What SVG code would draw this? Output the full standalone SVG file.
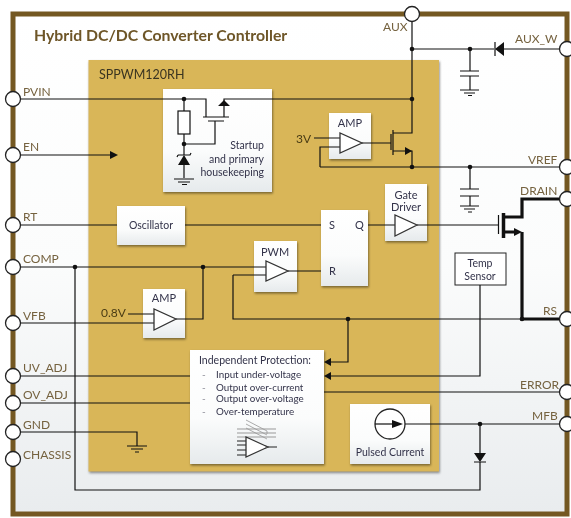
<svg xmlns="http://www.w3.org/2000/svg" width="571" height="518" viewBox="0 0 571 518">
<defs>
<linearGradient id="bg" x1="0" y1="0" x2="0" y2="1"><stop offset="0" stop-color="#ffffff"/><stop offset="0.5" stop-color="#fbfcfc"/><stop offset="1" stop-color="#e9ecee"/></linearGradient>
<linearGradient id="box" x1="0" y1="0" x2="0" y2="1"><stop offset="0" stop-color="#ffffff"/><stop offset="0.6" stop-color="#fbfcfc"/><stop offset="1" stop-color="#e6eaec"/></linearGradient>
<filter id="sh" x="-15%" y="-15%" width="130%" height="130%" color-interpolation-filters="sRGB"><feDropShadow dx="0.8" dy="1.5" stdDeviation="1" flood-color="#000" flood-opacity="0.45"/></filter>
<filter id="soft" filterUnits="userSpaceOnUse" x="0" y="0" width="571" height="518" color-interpolation-filters="sRGB"><feGaussianBlur stdDeviation="0.35"/></filter>
<style>
text{font-family:Lato,"Open Sans","Liberation Sans",sans-serif;font-size:11px;fill:#33334a}
.pin{fill:#75623f;font-size:12px}
.b{fill:url(#box);filter:url(#sh)}
.w{fill:none;stroke:#111;stroke-width:1.2}
.t{fill:none;stroke:#111;stroke-width:3.2}
.tri{fill:#fff;stroke:#333;stroke-width:1.3}
.g{fill:none;stroke:#111;stroke-width:1.2}
.d{fill:#111}
.c{fill:#fff;stroke:#222;stroke-width:1.3}
.m{text-anchor:middle}
.e{text-anchor:end;font-size:10.500px}
.s{font-size:10.500px}
.p{font-size:9.800px}
.dash{font-size:10px;fill:#8a8a95}
.v{font-size:12px;fill:#4a3c14}
</style>
</defs>
<g filter="url(#soft)">
<rect id="frame" x="13" y="14" width="554" height="500" fill="url(#bg)" stroke="#745822" stroke-width="5"/>
<text x="34" y="41" style="font-size:15.800px;font-weight:700;fill:#6e5628">Hybrid DC/DC Converter Controller</text>
<rect id="chip" x="88.500" y="60" width="350.500" height="411.500" fill="#d9b658" filter="url(#sh)"/>
<text x="99" y="79" style="font-size:12.500px;fill:#3a3420">SPPWM120RH</text>

<g id="startup"><rect class="b" x="163" y="89" width="109" height="103"/>
<text class="e" x="264" y="149">Startup</text><text class="e" x="264" y="163">and primary</text><text class="e" x="264" y="176">housekeeping</text></g>
<g id="oscillator"><rect class="b" x="117" y="206" width="68" height="39"/><text class="m s" x="151" y="229">Oscillator</text></g>
<g id="amp-top"><rect class="b" x="329" y="113" width="42" height="46"/><text class="m" x="350" y="127">AMP</text></g>
<g id="gate-driver"><rect class="b" x="385" y="184" width="42" height="57"/><text class="m" x="406" y="199">Gate</text><text class="m" x="406" y="211">Driver</text></g>
<g id="sr-latch"><rect class="b" x="321" y="210" width="47" height="76"/><text x="329" y="229">S</text><text x="355" y="229">Q</text><text x="329" y="275">R</text></g>
<g id="pwm"><rect class="b" x="254" y="241" width="43" height="51"/><text class="m" x="275" y="256">PWM</text></g>
<g id="amp-low"><rect class="b" x="143" y="289" width="42" height="49"/><text class="m" x="164" y="302">AMP</text></g>
<g id="protection"><rect class="b" x="190" y="350" width="134" height="114"/>
<text class="s" x="199" y="364">Independent Protection:</text>
<text class="dash" x="202" y="378">-</text><text class="dash" x="202" y="391">-</text><text class="dash" x="202" y="402">-</text><text class="dash" x="202" y="415">-</text>
<text class="p" x="216" y="378">Input under-voltage</text><text class="p" x="216" y="391">Output over-current</text><text class="p" x="216" y="402">Output over-voltage</text><text class="p" x="216" y="415">Over-temperature</text>
<path d="M246 420L267 431V434M246 424L267 435M246 428L267 439" fill="none" stroke="#aaa" stroke-width="1"/>
<path d="M237 429H276M237 433H276M237 437H276" stroke="#999" stroke-width="1" fill="none"/>
<path d="M237 441H246M237 445H246M237 450H246M237 455H246M268 447H277" stroke="#222" stroke-width="1" fill="none"/>
<path class="tri" d="M246 437V457L268 447Z"/></g>
<g id="pulsed-current"><rect class="b" x="350" y="404" width="80" height="60"/><text class="m s" x="390" y="456">Pulsed Current</text></g>
<g id="temp-sensor"><rect x="455" y="253" width="51" height="32" fill="#fff" stroke="#222" stroke-width="1"/><text class="m s" x="480" y="267">Temp</text><text class="m s" x="480" y="280">Sensor</text></g>

<g id="connectors">
<path class="w" d="M20 99H206V117M224 117V99H412M412 21V133H393M393 151H412V167M320 167H560M20 155H112M20 225H117M185 225H321M368 225H395M417 225H498M20 267H266M20 323H154M128 314H154M176 319H203V267M233 275H266M233 275V319H522M288 271H321M20 376H190M20 403H190M348 319V362H330M480 285V376H330M324 392H560M405 424H560M480 424V453M480 462V490H75V267M20 432H137V446"/>
<path class="w" d="M412 49H494M504 49H560M470 49V71M470 76V90M470 167V189M470 196V206"/>
<path class="w" d="M314 138H340M340 147H320V167M362 143H391"/>
<path class="t" d="M503 217H522V199H560M503 232H517M522 232V319H560"/>
<path class="g" d="M184 99V111M184 134V155M184 144H215V121M184 165V178M203 117H229M208 121H224"/>
<path class="g" d="M174 179H194M178 182H190M182 184.500H187M460 90H479M464 93H475M468 95.500H472M460 206H479M464 209H475M468 212H472M460 71H479M460 76H479M460 189H479M460 196H479M127 446H147M131 449H143M135 452H139"/>
<rect x="178" y="111" width="12" height="23" fill="#fff" stroke="#111" stroke-width="1.200"/>
<path class="d" d="M178 165H190L184 155ZM504 42V56L495 49ZM474 453H486L480 462ZM224 100L218 106H230ZM118 155L110 151V159ZM324 362L331 358V366ZM324 376L331 372V380ZM412 151L405 147V155ZM522 232L514 228V236Z"/>
<path class="g" d="M178 155H190L191 153M178 155L177 157M495 42V56M474 462H486"/>
<path class="w" d="M391 134V150M393 130V155M498.500 215V234"/>
<path d="M503.500 213V238" fill="none" stroke="#111" stroke-width="3.500"/>
<path class="tri" d="M340 133V153L362 143Z"/><path class="tri" d="M395 215V236L417 225Z"/><path class="tri" d="M266 261V281L288 271Z"/><path class="tri" d="M154 309V330L176 319Z"/>
<circle cx="390" cy="424" r="15" fill="#fff" stroke="#222" stroke-width="1.300"/>
<path class="w" d="M375 424H392"/><path class="d" d="M403 424L392 420V428Z"/>
<g class="d"><circle cx="184" cy="99" r="2.300"/><circle cx="184" cy="144" r="2.300"/><circle cx="412" cy="49" r="2.300"/><circle cx="470" cy="49" r="2.300"/><circle cx="412" cy="99" r="2.300"/><circle cx="412" cy="167" r="2.300"/><circle cx="470" cy="167" r="2.300"/><circle cx="75" cy="267" r="2.300"/><circle cx="203" cy="267" r="2.300"/><circle cx="348" cy="319" r="2.300"/><circle cx="522" cy="319" r="2.300"/><circle cx="480" cy="424" r="2.300"/></g>
</g>

<g id="pin-PVIN"><circle class="c" cx="13" cy="99" r="7.500"/><text class="pin" x="23" y="96">PVIN</text></g>
<g id="pin-EN"><circle class="c" cx="13" cy="155" r="7.500"/><text class="pin" x="23" y="151">EN</text></g>
<g id="pin-RT"><circle class="c" cx="13" cy="225" r="7.500"/><text class="pin" x="23" y="221">RT</text></g>
<g id="pin-COMP"><circle class="c" cx="13" cy="267" r="7.500"/><text class="pin" x="23" y="263">COMP</text></g>
<g id="pin-VFB"><circle class="c" cx="13" cy="323" r="7.500"/><text class="pin" x="23" y="320">VFB</text></g>
<g id="pin-UV_ADJ"><circle class="c" cx="13" cy="376" r="7.500"/><text class="pin" x="23" y="372">UV_ADJ</text></g>
<g id="pin-OV_ADJ"><circle class="c" cx="13" cy="403" r="7.500"/><text class="pin" x="23" y="399">OV_ADJ</text></g>
<g id="pin-GND"><circle class="c" cx="13" cy="432" r="7.500"/><text class="pin" x="23" y="429">GND</text></g>
<g id="pin-CHASSIS"><circle class="c" cx="13" cy="459" r="7.500"/><text class="pin" x="23" y="459">CHASSIS</text></g>
<g id="pin-AUX"><circle class="c" cx="412" cy="14" r="7.500"/><text class="pin" x="383" y="31">AUX</text></g>
<g id="pin-AUX_W"><circle class="c" cx="567" cy="49" r="7.500"/><text class="pin" x="515" y="43">AUX_W</text></g>
<g id="pin-VREF"><circle class="c" cx="567" cy="167" r="7.500"/><text class="pin" x="528" y="164">VREF</text></g>
<g id="pin-DRAIN"><circle class="c" cx="567" cy="199" r="7.500"/><text class="pin" x="520" y="195">DRAIN</text></g>
<g id="pin-RS"><circle class="c" cx="567" cy="319" r="7.500"/><text class="pin" x="543" y="315">RS</text></g>
<g id="pin-ERROR"><circle class="c" cx="567" cy="392" r="7.500"/><text class="pin" x="520" y="389">ERROR</text></g>
<g id="pin-MFB"><circle class="c" cx="567" cy="424" r="7.500"/><text class="pin" x="532" y="420">MFB</text></g>
<text class="v" x="296" y="143">3V</text>
<text class="v" x="101" y="317">0.8V</text>
</g>
</svg>
